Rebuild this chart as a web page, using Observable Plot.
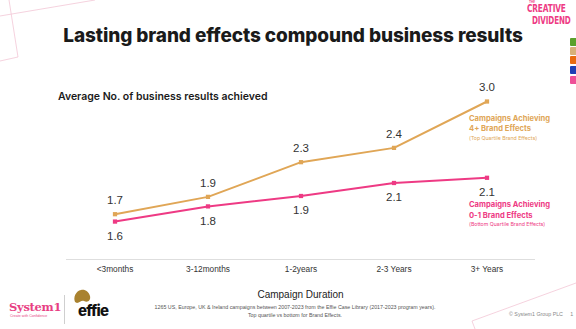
<!DOCTYPE html>
<html>
<head>
<meta charset="utf-8">
<script src="https://cdn.jsdelivr.net/npm/d3@7"></script>
<script src="https://cdn.jsdelivr.net/npm/@observablehq/plot@0.6"></script>
<style>
  html, body { margin: 0; padding: 0; background: #fff; }
  #wrap { position: relative; width: 576px; height: 329px; overflow: hidden; font-family: "Liberation Sans", Arial, sans-serif; }
  #title { height: 62px; position: relative; }
  #title h1 { position: absolute; left: 0; width: 586px; top: 24px; margin: 0; text-align: center; font-family: Inter, sans-serif; font-weight: 800; font-size: 19px; color: #1a1a1a; letter-spacing: -0.1px; }
  #subtitle { position: absolute; left: 58px; top: 90px; font-family: Inter, sans-serif; font-weight: 600; font-size: 10.5px; color: #1a1a1a; }
  #chart { position: absolute; left: 0; top: 62px; }
  .abs { position: absolute; }
</style>
</head>
<body>
<div id="wrap">
  <svg class="abs" style="left:0;top:0" width="576" height="329">
    <g stroke="#f3c6d6" stroke-width="0.8" fill="none">
      <line x1="0" y1="16" x2="95" y2="0"/>
      <line x1="9" y1="0" x2="18" y2="57"/>
      <line x1="0" y1="61" x2="18" y2="57"/>
      <line x1="472" y1="321" x2="576" y2="283"/>
      <line x1="472" y1="321" x2="475" y2="329"/>
    </g>
  </svg>
  <div id="title"><h1>Lasting brand effects compound business results</h1></div>
  <div id="subtitle">Average No. of business results achieved</div>
  <div id="chart"></div>

  <!-- Creative Dividend logo -->
  <div class="abs" style="left:529px;top:0px;font:700 3px Inter,sans-serif;line-height:4px;color:#ee3a84;">THE</div>
  <div class="abs" style="left:527px;top:4px;font:700 10px 'DejaVu Sans',sans-serif;color:#ee3a84;transform:scaleX(0.74);transform-origin:left top;line-height:10px;letter-spacing:-0.2px;">CREATIVE</div>
  <div class="abs" style="left:532px;top:16px;font:700 10px 'DejaVu Sans',sans-serif;color:#ee3a84;transform:scaleX(0.72);transform-origin:left top;line-height:10px;letter-spacing:-0.2px;">DIVIDEND</div>
  <!-- colored blocks -->
  <div class="abs" style="left:570px;top:38px;width:8px;height:8px;background:#5aa02c;border-radius:1px;"></div>
  <div class="abs" style="left:570px;top:47px;width:8px;height:8px;background:#d8b079;border-radius:1px;"></div>
  <div class="abs" style="left:570px;top:56px;width:8px;height:8px;background:#e96a10;border-radius:1px;"></div>
  <div class="abs" style="left:570px;top:66px;width:8px;height:8px;background:#1f3fb5;border-radius:1px;"></div>
  <div class="abs" style="left:570px;top:76px;width:8px;height:8px;background:#ee4f97;border-radius:1px;"></div>

  <!-- footer -->
  <div class="abs" style="left:9px;top:300px;font:700 11.5px 'DejaVu Serif',serif;color:#e83f84;letter-spacing:-0.3px;">System1</div>
  <div class="abs" style="left:10px;top:314px;font:400 3.6px 'Liberation Sans',sans-serif;color:#e83f84;">Create with Confidence</div>
  <div class="abs" style="left:64px;top:295px;width:1px;height:29px;background:#cfcfcf;"></div>
  <svg class="abs" style="left:72px;top:288px" width="22" height="18"><path d="M3 14 C1 9 4 3 9 2 C13 1 17 4 18 8 C19 12 16 15 12 13 C9 12 8 15 5 15 Z" fill="#a9822f"/></svg>
  <div class="abs" style="left:78px;top:301px;font:800 15px Inter,sans-serif;color:#111;letter-spacing:-0.8px;">effie</div>
  <div class="abs" style="left:120px;top:304px;width:350px;text-align:center;font:400 5.3px 'Liberation Sans',sans-serif;color:#555;line-height:7.5px;">1265 US, Europe, UK &amp; Ireland campaigns between 2007-2023 from the Effie Case Library (2017-2023 program years).<br>Top quartile vs bottom for Brand Effects.</div>
  <div class="abs" style="left:509px;top:311px;font:400 5.3px 'Liberation Sans',sans-serif;color:#888;white-space:pre;">© System1 Group PLC     1</div>
</div>
<script>
const durations = ["<3months", "3-12months", "1-2years", "2-3 Years", "3+ Years"];
const seriesNames = ["top", "bottom"];
const seriesColors = ["#e0a656", "#ee3a84"];
const topValues = [1.7, 1.9, 2.3, 2.465, 3.0];
const topLabels = ["1.7", "1.9", "2.3", "2.4", "3.0"];
const bottomValues = [1.615, 1.79, 1.91, 2.06, 2.12];
const bottomLabels = ["1.6", "1.8", "1.9", "2.1", "2.1"];
const topSeriesLabel = ["Campaigns Achieving", "4+ Brand Effects", "(Top Quartile Brand Effects)"];
const bottomSeriesLabel = ["Campaigns Achieving", "0-1 Brand Effects", "(Bottom Quartile Brand Effects)"];
const axisTitle = "Campaign Duration";

const data = [
  ...durations.map((d, i) => ({duration: d, value: topValues[i], label: topLabels[i], series: "top"})),
  ...durations.map((d, i) => ({duration: d, value: bottomValues[i], label: bottomLabels[i], series: "bottom"}))
];
const topD = data.filter(d => d.series === "top");
const botD = data.filter(d => d.series === "bottom");
const lastTop = topD[topD.length - 1];
const lastBot = botD[botD.length - 1];

const seriesText = (d, lines, color, off) => [
  Plot.text([d], {x: "duration", y: "value", text: () => lines[0], dx: -18, dy: off, textAnchor: "start", fontSize: 7.6, fontWeight: 700, fontFamily: "Inter, sans-serif", fill: color}),
  Plot.text([d], {x: "duration", y: "value", text: () => lines[1], dx: -18, dy: off + 10.5, textAnchor: "start", fontSize: 7.6, fontWeight: 700, fontFamily: "Inter, sans-serif", fill: color}),
  Plot.text([d], {x: "duration", y: "value", text: () => lines[2], dx: -18, dy: off + 19.5, textAnchor: "start", fontSize: 5.2, fontFamily: "Inter, sans-serif", fill: color})
];

const chart = Plot.plot({
  width: 576,
  height: 267,
  marginLeft: 66,
  marginRight: 42,
  marginTop: 0,
  marginBottom: 70,
  style: {fontFamily: "'Liberation Sans', Arial, sans-serif", background: "transparent", overflow: "visible"},
  x: {type: "band", domain: durations, padding: 0},
  y: {domain: [1.7, 3.0], range: [151.7, 39], axis: null},
  color: {domain: seriesNames, range: seriesColors},
  marks: [
    Plot.frame({anchor: "bottom", stroke: "#dedede"}),
    Plot.axisX({tickSize: 0, tickPadding: 7, fontSize: 8.3, label: null, color: "#333"}),
    Plot.text([axisTitle], {frameAnchor: "bottom", dy: 38, fontSize: 10, fill: "#222", text: d => d}),
    Plot.line(data, {x: "duration", y: "value", z: "series", stroke: "series", strokeWidth: 2}),
    Plot.dot(data, {x: "duration", y: "value", fill: "series", symbol: "square", r: 2.4}),
    Plot.text(topD, {x: "duration", y: "value", text: "label", dy: -14, fontSize: 11.5, fill: "#333"}),
    Plot.text(botD, {x: "duration", y: "value", text: "label", dy: 14.5, fontSize: 11.5, fill: "#333"}),
    ...seriesText(lastTop, topSeriesLabel, seriesColors[0], 17),
    ...seriesText(lastBot, bottomSeriesLabel, seriesColors[1], 27)
  ]
});
document.getElementById("chart").appendChild(chart);
</script>
</body>
</html>
